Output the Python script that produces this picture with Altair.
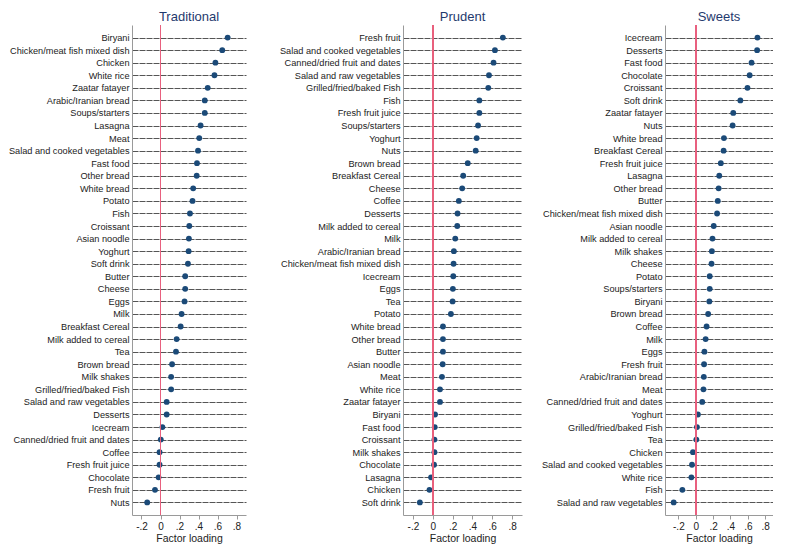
import altair as alt
import pandas as pd

trad_foods = ["Biryani", "Chicken/meat fish mixed dish", "Chicken", "White rice", "Zaatar fatayer",
              "Arabic/Iranian bread", "Soups/starters", "Lasagna", "Meat", "Salad and cooked vegetables",
              "Fast food", "Other bread", "White bread", "Potato", "Fish", "Croissant", "Asian noodle",
              "Yoghurt", "Soft drink", "Butter", "Cheese", "Eggs", "Milk", "Breakfast Cereal",
              "Milk added to cereal", "Tea", "Brown bread", "Milk shakes", "Grilled/fried/baked Fish",
              "Salad and raw vegetables", "Desserts", "Icecream", "Canned/dried fruit and dates",
              "Coffee", "Fresh fruit juice", "Chocolate", "Fresh fruit", "Nuts"]
trad_vals = [0.707, 0.65, 0.578, 0.568, 0.497, 0.466, 0.466, 0.422, 0.408, 0.395,
             0.384, 0.381, 0.344, 0.337, 0.31, 0.303, 0.299, 0.296, 0.289, 0.26,
             0.26, 0.253, 0.222, 0.212, 0.17, 0.163, 0.122, 0.112, 0.112, 0.065,
             0.065, 0.02, 0.003, -0.01, -0.01, -0.02, -0.058, -0.14]

prud_foods = ["Fresh fruit", "Salad and cooked vegetables", "Canned/dried fruit and dates",
              "Salad and raw vegetables", "Grilled/fried/baked Fish", "Fish", "Fresh fruit juice",
              "Soups/starters", "Yoghurt", "Nuts", "Brown bread", "Breakfast Cereal", "Cheese",
              "Coffee", "Desserts", "Milk added to cereal", "Milk", "Arabic/Iranian bread",
              "Chicken/meat fish mixed dish", "Icecream", "Eggs", "Tea", "Potato", "White bread",
              "Other bread", "Butter", "Asian noodle", "Meat", "White rice", "Zaatar fatayer",
              "Biryani", "Fast food", "Croissant", "Milk shakes", "Chocolate", "Lasagna",
              "Chicken", "Soft drink"]
prud_vals = [0.707, 0.627, 0.613, 0.567, 0.56, 0.47, 0.47, 0.457, 0.443, 0.433,
             0.353, 0.307, 0.297, 0.263, 0.25, 0.247, 0.227, 0.213, 0.21, 0.207,
             0.203, 0.2, 0.183, 0.103, 0.103, 0.103, 0.1, 0.093, 0.073, 0.073,
             0.023, 0.02, 0.017, 0.017, 0.013, -0.017, -0.033, -0.13]

sweet_foods = ["Icecream", "Desserts", "Fast food", "Chocolate", "Croissant", "Soft drink",
               "Zaatar fatayer", "Nuts", "White bread", "Breakfast Cereal", "Fresh fruit juice",
               "Lasagna", "Other bread", "Butter", "Chicken/meat fish mixed dish", "Asian noodle",
               "Milk added to cereal", "Milk shakes", "Cheese", "Potato", "Soups/starters",
               "Biryani", "Brown bread", "Coffee", "Milk", "Eggs", "Fresh fruit",
               "Arabic/Iranian bread", "Meat", "Canned/dried fruit and dates", "Yoghurt",
               "Grilled/fried/baked Fish", "Tea", "Chicken", "Salad and cooked vegetables",
               "White rice", "Fish", "Salad and raw vegetables"]
sweet_vals = [0.711, 0.707, 0.643, 0.621, 0.596, 0.514, 0.432, 0.425, 0.325, 0.321,
              0.289, 0.271, 0.264, 0.254, 0.246, 0.207, 0.193, 0.186, 0.182, 0.161,
              0.161, 0.157, 0.143, 0.125, 0.114, 0.1, 0.096, 0.093, 0.089, 0.075,
              0.025, 0.014, 0.007, -0.032, -0.043, -0.05, -0.154, -0.254]

tick_values = [-0.2, 0.0, 0.2, 0.4, 0.6, 0.8]
tick_labels = ["-.2", "0", ".2", ".4", ".6", ".8"]

FONT = "Liberation Sans"

label_expr = " : ".join(
    f"abs(datum.value - ({v})) < 0.001 ? '{t}'" for v, t in zip(tick_values, tick_labels)
) + " : ''"


def panel(title, foods, vals, domain, width):
    df = pd.DataFrame({"food": foods, "loading": vals})
    xscale = alt.Scale(domain=domain, nice=False, zero=False)
    xaxis = alt.Axis(values=tick_values, title="Factor loading", grid=False,
                     labelOverlap=False, labelExpr=label_expr)
    base = alt.Chart(df)
    pts = base.mark_circle(size=34, color="#1b4a78", opacity=1).encode(
        x=alt.X("loading:Q", scale=xscale, axis=xaxis),
        y=alt.Y("food:N", sort=foods, title=None,
                scale=alt.Scale(type="point", padding=1.3),
                axis=alt.Axis(ticks=False, grid=True, gridColor="#555555", gridDash=[6, 1],
                              gridWidth=1, labelPadding=3, labelLimit=300)),
    )
    zero = base.mark_rule(color="#e8607e", strokeWidth=1).encode(
        x=alt.datum(0, type="quantitative", scale=xscale, axis=xaxis)
    )
    return alt.layer(pts, zero).properties(
        width=width, height=490,
        title=alt.TitleParams(title, anchor="middle", fontSize=13, font=FONT,
                              fontWeight="normal", color="#1f3a6e", offset=1),
    )


left = alt.hconcat(
    panel("Traditional", trad_foods, trad_vals, [-0.3, 0.9], 114),
    panel("Prudent", prud_foods, prud_vals, [-0.3, 0.9], 119),
    spacing=33,
)
chart = alt.hconcat(
    left,
    panel("Sweets", sweet_foods, sweet_vals, [-0.354, 0.89], 108),
    spacing=19,
).properties(padding={"left": 0, "top": 2, "right": 0, "bottom": 0}).configure_view(
    stroke=None
).configure_axis(
    labelFont=FONT, titleFont=FONT, labelFontSize=9.2, titleFontSize=10.5,
    titleFontWeight="normal", labelColor="#222", titleColor="#222",
    domainColor="#9a9a9a", tickColor="#9a9a9a", tickSize=4, titlePadding=2,
).configure_axisX(labelFontSize=10, labelOverlap=False)

chart.save("out.html", embed_options={"renderer": "svg", "actions": False})
